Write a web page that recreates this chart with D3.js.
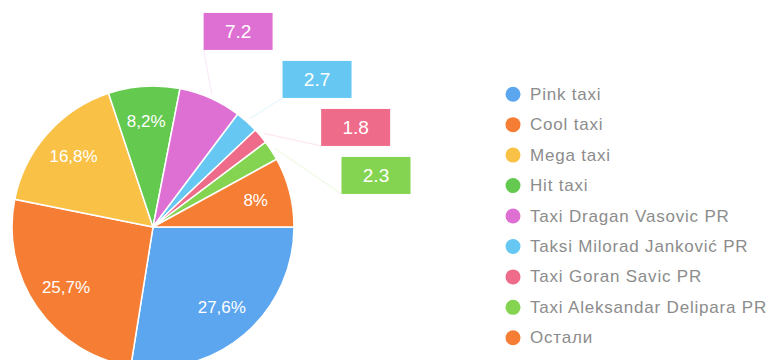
<!DOCTYPE html>
<html>
<head>
<meta charset="utf-8">
<script src="https://cdn.jsdelivr.net/npm/d3@7/dist/d3.min.js"></script>
<style>
  html, body { margin: 0; padding: 0; background: #ffffff; }
  svg { display: block; }
</style>
</head>
<body>
<svg id="chart" width="775" height="360"></svg>
<script>
const categories = [
  "Pink taxi",
  "Cool taxi",
  "Mega taxi",
  "Hit taxi",
  "Taxi Dragan Vasovic PR",
  "Taksi Milorad Janković PR",
  "Taxi Goran Savic PR",
  "Taxi Aleksandar Delipara PR",
  "Остали"
];
const values = [27.6, 25.7, 16.8, 8.2, 7.2, 2.7, 1.8, 2.3, 8];
const colors = ["#5ca6f0", "#f67d34", "#f9c146", "#63c94f", "#df70d3", "#66c7f2", "#ef6b8a", "#84d451", "#f67d34"];

const svg = d3.select("#chart");
const cx = 153, cy = 227, R = 141;
const FONT = "'Liberation Sans', Arial, sans-serif";

const data = categories.map((c, i) => ({ name: c, value: values[i], color: colors[i] }));

const pie = d3.pie()
  .sort(null)
  .value(d => d.value)
  .startAngle(Math.PI / 2)
  .endAngle(Math.PI / 2 + 2 * Math.PI);

const arcs = pie(data);
const arc = d3.arc().innerRadius(0).outerRadius(R);
const labelArc = d3.arc().innerRadius(106).outerRadius(106);

const g = svg.append("g").attr("transform", `translate(${cx},${cy})`);

g.selectAll("path.slice")
  .data(arcs)
  .join("path")
  .attr("class", "slice")
  .attr("d", arc)
  .attr("fill", d => d.data.color)
  .attr("stroke", "#ffffff")
  .attr("stroke-width", 1.5);

const fmtIn = v => String(v).replace(".", ",") + "%";

// inside labels
const inside = arcs.filter(d => d.data.value >= 8);
g.selectAll("text.inlbl")
  .data(inside)
  .join("text")
  .attr("class", "inlbl")
  .attr("transform", d => `translate(${labelArc.centroid(d)})`)
  .attr("text-anchor", "middle")
  .attr("dominant-baseline", "central")
  .attr("fill", "#ffffff")
  .attr("font-family", FONT)
  .attr("font-size", 17)
  .text(d => fmtIn(d.data.value));

// outside callouts
const outside = arcs.filter(d => d.data.value < 8);
const bw = 69, bh = 37, gap = 48, baseR = 214, ellA = 230, ellB = 210.5;
const placed = [];
let lastY = -Infinity;
outside.forEach(d => {
  const a = (d.startAngle + d.endAngle) / 2;
  let y = -baseR * Math.cos(a);
  if (y < lastY + gap) y = lastY + gap;
  lastY = y;
  const x = ellA * Math.sqrt(Math.max(0, 1 - (y / ellB) * (y / ellB)));
  placed.push({ d, a, x, y });
});

// leader lines
g.selectAll("path.leader")
  .data(placed)
  .join("path")
  .attr("class", "leader")
  .attr("d", p => {
    const sx = (R + 4) * Math.sin(p.a), sy = -(R + 4) * Math.cos(p.a);
    const ex = p.x - bw / 2, ey = p.y + bh / 2;
    return `M${sx},${sy}L${ex},${ey}`;
  })
  .attr("stroke", p => p.d.data.color)
  .attr("stroke-opacity", 0.15)
  .attr("stroke-width", 1.2)
  .attr("fill", "none");

const boxes = g.selectAll("g.box")
  .data(placed)
  .join("g")
  .attr("class", "box")
  .attr("transform", p => `translate(${p.x},${p.y})`);

boxes.append("rect")
  .attr("x", -bw / 2).attr("y", -bh / 2)
  .attr("width", bw).attr("height", bh)
  .attr("fill", p => p.d.data.color);

boxes.append("text")
  .attr("text-anchor", "middle")
  .attr("dominant-baseline", "central")
  .attr("fill", "#ffffff")
  .attr("font-family", FONT)
  .attr("font-size", 19)
  .text(p => String(p.d.data.value));

// legend
const legendY = d3.scaleBand().domain(categories).range([79, 353]);
const lg = svg.append("g").attr("class", "legend");
const items = lg.selectAll("g")
  .data(data)
  .join("g")
  .attr("transform", d => `translate(513,${legendY(d.name) + legendY.bandwidth() / 2})`);
items.append("circle").attr("r", 7.5).attr("fill", d => d.color);
items.append("text")
  .attr("x", 17)
  .attr("dominant-baseline", "central")
  .attr("fill", "#8c8c8c")
  .attr("font-family", FONT)
  .attr("font-size", 17)
  .attr("letter-spacing", 0.8)
  .text(d => d.name);
</script>
</body>
</html>
